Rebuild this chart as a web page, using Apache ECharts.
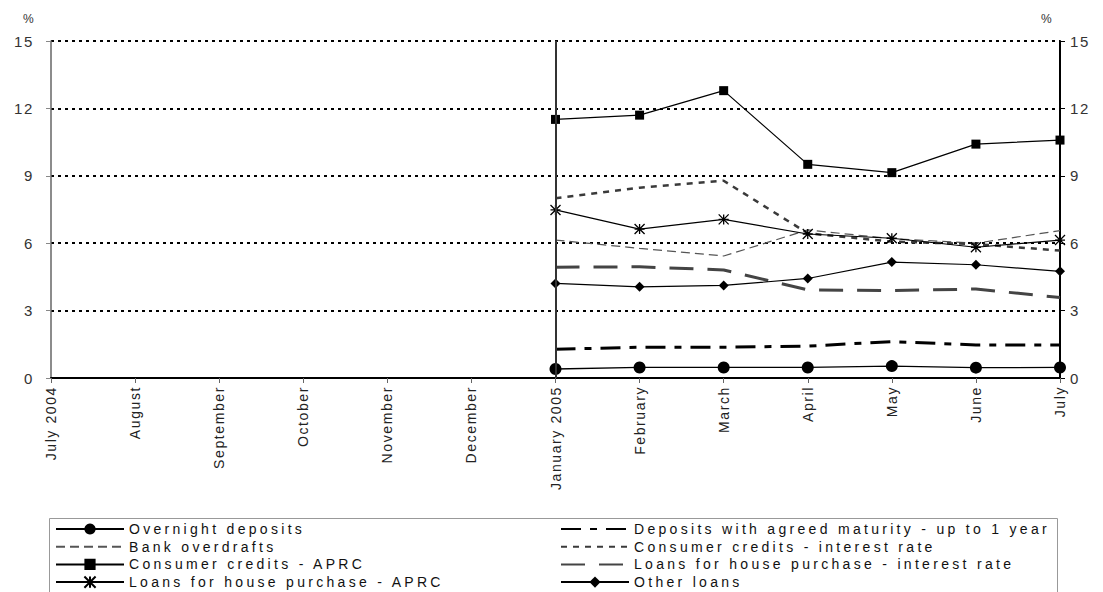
<!DOCTYPE html>
<html>
<head>
<meta charset="utf-8">
<script src="https://cdn.jsdelivr.net/npm/echarts@6/dist/echarts.min.js"></script>
<style>
html,body{margin:0;padding:0;background:#fff;}
#chart{width:1103px;height:592px;}
#chart text{letter-spacing:1.6px;}
#chart text[style*="Liberation"]{letter-spacing:3.3px;}
</style>
</head>
<body>
<div id="chart"></div>
<script>
// ---- data ----
const months = ["July 2004","August","September","October","November","December","January 2005","February","March","April","May","June","July"];
const pad = [null,null,null,null,null,null];
const overnightDeposits   = pad.concat([0.40,0.47,0.47,0.47,0.53,0.46,0.47]);
const depositsAgreed      = pad.concat([1.28,1.37,1.37,1.42,1.62,1.47,1.47]);
const bankOverdrafts      = pad.concat([6.14,5.77,5.43,6.59,6.20,6.00,6.56]);
const consumerRate        = pad.concat([8.00,8.47,8.78,6.44,6.07,5.96,5.67]);
const consumerAPRC        = pad.concat([11.51,11.70,12.79,9.51,9.14,10.41,10.59]);
const houseRate           = pad.concat([4.93,4.95,4.81,3.92,3.89,3.96,3.58]);
const houseAPRC           = pad.concat([7.48,6.63,7.06,6.41,6.22,5.82,6.14]);
const otherLoans          = pad.concat([4.21,4.06,4.12,4.43,5.16,5.04,4.75]);
const yTicks = [0,3,6,9,12,15];

const names = {
  od: "Overnight deposits",
  da: "Deposits with agreed maturity - up to 1 year",
  bo: "Bank overdrafts",
  cr: "Consumer credits - interest rate",
  ca: "Consumer credits - APRC",
  hr: "Loans for house purchase - interest rate",
  ha: "Loans for house purchase - APRC",
  ol: "Other loans"
};

const AXFONT = "Arial, sans-serif";
const LGFONT = "Liberation Sans";
const star = 'path://M0,-1L0,1M-1,-1L1,1M-1,1L1,-1M-1,0L1,0';

const chart = echarts.init(document.getElementById('chart'), null, {renderer:'svg'});

function line(name, data, ls, symbol, symSize, extra) {
  return Object.assign({
    name: name, type: 'line', data: data,
    symbol: symbol || 'none', symbolSize: symSize || 0,
    showSymbol: !!symbol,
    lineStyle: ls,
    itemStyle: {color: symbol ? '#000' : 'rgba(0,0,0,0)'},
    connectNulls: false, animation: false, silent: true,
    z: 3
  }, extra || {});
}

const series = [
  line(names.od, overnightDeposits, {color:'#000', width:1.3, type:'solid'}, 'circle', 12, {
    markLine: {
      silent: true, symbol: ['none','none'], animation: false,
      label: {show:false},
      lineStyle: {color:'#333', width:2, type:'solid'},
      data: [{xAxis: 'January 2005'}]
    }
  }),
  line(names.da, depositsAgreed, {color:'#000', width:3, type:[20,9,7,9]}),
  line(names.bo, bankOverdrafts, {color:'#555', width:1.2, type:[9,5]}),
  line(names.cr, consumerRate, {color:'#3a3a3a', width:2.5, type:[6,6]}),
  line(names.ca, consumerAPRC, {color:'#000', width:1.2, type:'solid'}, 'rect', 9),
  line(names.hr, houseRate, {color:'#444', width:3, type:[24,14]}),
  line(names.ha, houseAPRC, {color:'#000', width:1.2, type:'solid'}, star, 10,
       {itemStyle:{color:'#000', borderColor:'#000', borderWidth:1.3}}),
  line(names.ol, otherLoans, {color:'#000', width:1.2, type:'solid'}, 'diamond', 10)
];

const legendText = {fontFamily: LGFONT, fontSize: 14, color: '#111'};

const option = {
  backgroundColor: '#fff',
  animation: false,
  grid: {left: 51, right: 43, top: 41, bottom: 214, containLabel: false},
  xAxis: {
    type: 'category', data: months, boundaryGap: false,
    axisLine: {show:true, lineStyle:{color:'#000', width:2}},
    axisTick: {show:true, alignWithLabel:true, length:5, lineStyle:{color:'#666'}},
    axisLabel: {rotate: 90, fontFamily: AXFONT, fontSize: 14, color: '#222', margin: 8, interval: 0},
    splitLine: {show:false}
  },
  yAxis: [
    {
      type: 'value', position: 'left', min: 0, max: 15, interval: 3,
      axisLine: {show:true, lineStyle:{color:'#666', width:1.5}},
      axisTick: {show:true, length:5, lineStyle:{color:'#888'}},
      axisLabel: {fontFamily: AXFONT, fontSize: 15, color: '#333', margin: 17,
                  formatter: v => yTicks.indexOf(v) >= 0 ? String(v) : ''},
      splitLine: {show:true, lineStyle:{color:'#000', width:2, type:[3,4]}}
    },
    {
      type: 'value', position: 'right', min: 0, max: 15, interval: 3,
      axisLine: {show:true, lineStyle:{color:'#000', width:2}},
      axisTick: {show:true, length:5, lineStyle:{color:'#000'}},
      axisLabel: {fontFamily: AXFONT, fontSize: 15, color: '#333', margin: 10},
      splitLine: {show:false}
    }
  ],
  legend: [
    {
      orient: 'vertical', left: 55, top: 522, height: 100, padding: 0,
      itemWidth: 68, itemHeight: 14, itemGap: 3.7,
      textStyle: legendText,
      data: [names.od, names.bo, names.ca, names.ha]
    },
    {
      orient: 'vertical', left: 560, top: 522, height: 100, padding: 0,
      itemWidth: 68, itemHeight: 14, itemGap: 3.7,
      textStyle: legendText,
      data: [names.da, names.cr, names.hr, names.ol]
    }
  ],
  graphic: [
    {type:'rect', left: 47, top: 516, shape:{width: 1008, height: 90}, style:{fill:'none', stroke:'#999', lineWidth:1}, silent:true},
    {type:'text', left: 23, top: 13, style:{text:'%', fontFamily: AXFONT, fontSize: 12, fill:'#333'}},
    {type:'text', left: 1041, top: 13, style:{text:'%', fontFamily: AXFONT, fontSize: 12, fill:'#333'}}
  ],
  series: series
};
chart.setOption(option);
</script>
</body>
</html>
